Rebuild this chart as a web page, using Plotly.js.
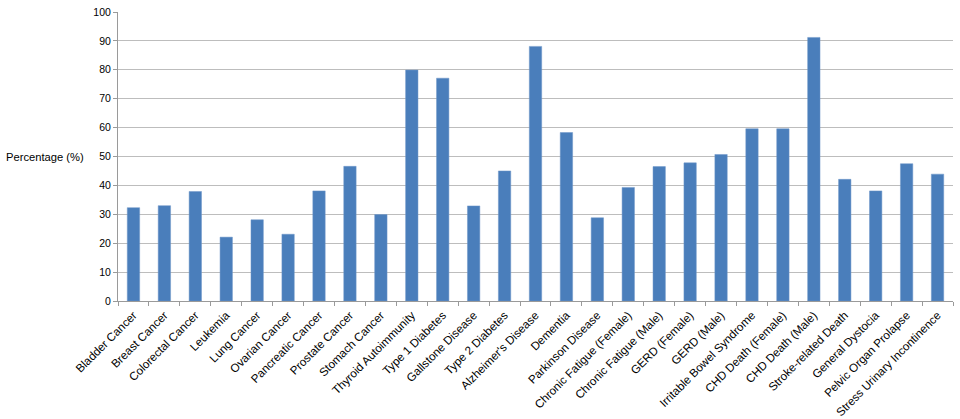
<!DOCTYPE html>
<html>
<head>
<meta charset="utf-8">
<script src="https://cdn.plot.ly/plotly-3.0.1.min.js"></script>
<style>html,body{margin:0;padding:0;background:#fff;}#chart{width:960px;height:419px;}</style>
</head>
<body>
<div id="chart"></div>
<script>
const categories = ["Bladder Cancer","Breast Cancer","Colorectal Cancer","Leukemia","Lung Cancer","Ovarian Cancer","Pancreatic Cancer","Prostate Cancer","Stomach Cancer","Thyroid Autoimmunity","Type 1 Diabetes","Gallstone Disease","Type 2 Diabetes","Alzheimer's Disease","Dementia","Parkinson Disease","Chronic Fatigue (Female)","Chronic Fatigue (Male)","GERD (Female)","GERD (Male)","Irritable Bowel Syndrome","CHD Death (Female)","CHD Death (Male)","Stroke-related Death","General Dystocia","Pelvic Organ Prolapse","Stress Urinary Incontinence"];
const percentages = [32.3,33.0,37.9,22.1,28.1,23.1,38.1,46.6,29.9,79.9,77.1,32.9,45.0,88.1,58.3,28.8,39.3,46.5,47.8,50.7,59.6,59.6,91.2,42.1,38.1,47.5,43.9];
const yTicks = [0,10,20,30,40,50,60,70,80,90,100];
const yTitle = "Percentage (%)";

const trace = {
  type: "bar",
  x: categories,
  y: percentages,
  marker: {color: "#4a7ebb", line: {color: "#6f97c9", width: 0.5}},
  hoverinfo: "x+y"
};

const layout = {
  width: 960, height: 419,
  margin: {l: 118, r: 7, t: 12, b: 118},
  paper_bgcolor: "#fff", plot_bgcolor: "#fff",
  bargap: 0.6,
  showlegend: false,
  font: {family: "Liberation Sans, Arial, sans-serif", color: "#000"},
  xaxis: {
    type: "category",
    tickangle: -45,
    tickfont: {size: 11.6, color: "#000"},
    ticklabelstandoff: 2,
    showline: true, linecolor: "#9a9a9a", linewidth: 1,
    ticks: "outside", ticklen: 4, tickcolor: "#9a9a9a",
    tickson: "boundaries",
    showgrid: false, zeroline: false,
    automargin: false
  },
  yaxis: {
    range: [0, 100],
    tickvals: yTicks,
    ticktext: yTicks.map(String),
    tickfont: {size: 10.5, color: "#000"},
    showline: true, linecolor: "#9a9a9a", linewidth: 1,
    ticks: "outside", ticklen: 4, tickcolor: "#9a9a9a",
    showgrid: true, gridcolor: "#bdbdbd", gridwidth: 1,
    zeroline: false,
    automargin: false
  },
  annotations: [{
    text: yTitle, xref: "paper", yref: "paper",
    x: -0.137, y: 0.5, xanchor: "left", yanchor: "middle",
    showarrow: false, font: {size: 11.2, color: "#000"}
  }]
};

Plotly.newPlot("chart", [trace], layout, {displayModeBar: false, staticPlot: true});
</script>
</body>
</html>
